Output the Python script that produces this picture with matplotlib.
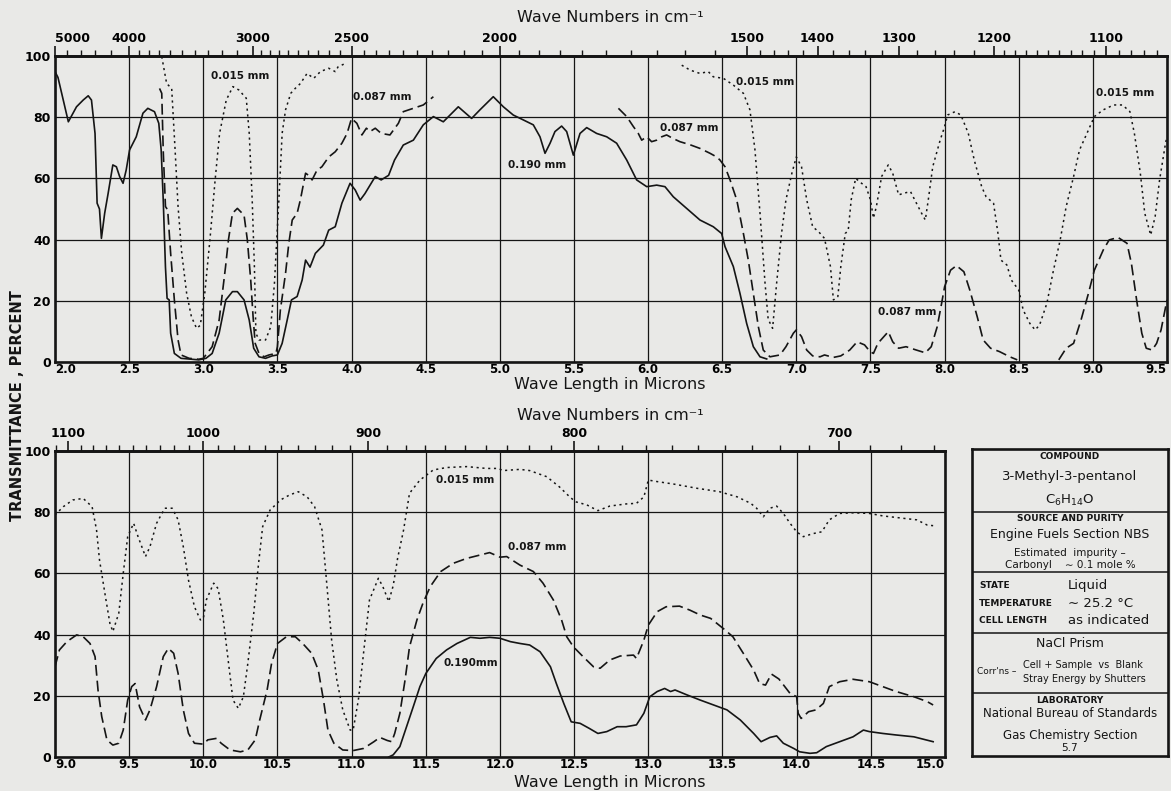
import numpy as np
import matplotlib
matplotlib.use("Agg")
import matplotlib.pyplot as plt
from matplotlib.ticker import FixedLocator

# ---------- data (microns, % transmittance) ----------

# upper panel, 2.0 - 9.5 microns
top_190_x = [2.0, 2.02, 2.09, 2.145, 2.19, 2.224, 2.246, 2.27, 2.284, 2.30, 2.313, 2.335, 2.358, 2.39,
             2.414, 2.436, 2.459, 2.48, 2.503, 2.548, 2.593, 2.626, 2.671, 2.70, 2.716, 2.73, 2.745,
             2.756, 2.77, 2.78, 2.805, 2.85, 2.97, 3.018, 3.06, 3.107, 3.152, 3.197, 3.23, 3.275,
             3.31, 3.34, 3.376, 3.42, 3.465, 3.50, 3.532, 3.566, 3.595, 3.633, 3.667, 3.69, 3.72,
             3.756, 3.81, 3.846, 3.89, 3.935, 3.99, 4.025, 4.058, 4.09, 4.16, 4.2, 4.25, 4.29,
             4.349, 4.417, 4.484, 4.552, 4.619, 4.72, 4.81, 4.866, 4.956, 5.024, 5.091, 5.159,
             5.226, 5.271, 5.305, 5.339, 5.372, 5.417, 5.451, 5.496, 5.541, 5.586, 5.653, 5.721,
             5.788, 5.856, 5.923, 5.991, 6.058, 6.114, 6.17, 6.26, 6.35, 6.44, 6.496, 6.519,
             6.575, 6.62, 6.665, 6.71, 6.755, 6.80]
top_190_y = [94.9, 93, 78.5, 83.4, 85.6, 87, 85.6, 74.7, 51.9, 50, 40.4, 48.6, 55, 64.4,
             63.8, 60.6, 58.4, 62.7, 69.3, 73.6, 81.3, 82.9, 81.8, 78, 69.3, 53, 31,
             20.8, 20.3, 9.4, 2.8, 1.2, 0.7, 1.2, 2.8, 9.4, 20.3, 23, 23, 20.3,
             13.7, 4.5, 1.7, 1.2, 2, 2.3, 6.1, 13.7, 20.3, 21.4, 26.8, 33.3, 31,
             35.5, 38.2, 43.1, 44.2, 51.9, 58.4, 56.2, 52.9, 55, 60.6, 59.5, 61, 66,
             70.9, 72.5, 77.5, 80.2, 78.5, 83.4, 79.6, 82.4, 86.7, 83.4, 80.7, 79.1,
             77.5, 73.6, 68.2, 71.5, 75.3, 77.1, 75.3, 67.6, 74.7, 76.6, 74.7, 73.6,
             71.5, 66, 59.5, 57.3, 57.8, 57.3, 54, 50.2, 46.4, 44.2, 42, 37.7,
             31.2, 22.4, 12.6, 5, 1.7, 1.0]

top_087_x = [2.705, 2.72, 2.73, 2.745, 2.76, 2.78, 2.805, 2.83, 2.85, 2.905, 2.97, 3.0, 3.06, 3.107,
             3.15, 3.17, 3.197, 3.23, 3.275, 3.297, 3.32, 3.336, 3.35, 3.376, 3.41, 3.443, 3.49,
             3.5, 3.52, 3.555, 3.577, 3.6, 3.633, 3.655, 3.69, 3.71, 3.734, 3.767, 3.8, 3.846,
             3.89, 3.935, 3.97, 4.0, 4.036, 4.07, 4.1, 4.125, 4.16, 4.2, 4.259, 4.316, 4.349,
             4.417, 4.484, 4.552,
             np.nan,
             5.8, 5.856, 5.9, 5.934, 5.957, 5.991, 6.024, 6.058, 6.092, 6.125, 6.17, 6.215,
             6.283, 6.35, 6.418, 6.463, 6.485, 6.519, 6.553, 6.598, 6.643, 6.676, 6.71, 6.744,
             6.777, 6.822, 6.89, 6.93, 6.98, 7.0, 7.035, 7.07, 7.11, 7.16, 7.19, 7.25, 7.3,
             7.36, 7.41, 7.46, 7.497, 7.52, 7.55, 7.62, 7.65, 7.69, 7.74, 7.81, 7.87, 7.91,
             7.95, 7.98, 8.0, 8.04, 8.08, 8.13, 8.17, 8.22, 8.26, 8.31, 8.37, 8.44, 8.49,
             np.nan,
             8.77, 8.82, 8.87, 8.92, 8.97, 9.01, 9.07, 9.11, 9.17, 9.23, 9.26, 9.295, 9.33,
             9.36, 9.4, 9.43, 9.46, 9.5]
top_087_y = [89.4, 87.8, 69, 50.8, 49.7, 35.5, 20.3, 7.2, 2.3, 1.2, 0.9, 1.2, 5, 13.7,
             31, 40, 48.6, 50.2, 48, 40, 26.8, 14.8, 6.1, 2.8, 1.7, 2.3, 2.8,
             5, 17, 29, 38.8, 46.4, 48.6, 53, 61.7, 61, 59.5, 62.7, 63.8, 67,
             68.7, 71.5, 74.7, 79.6, 78, 74.2, 76.4, 75.3, 76.4, 74.7, 74.2, 78, 81.8,
             82.9, 84, 86.7,
             np.nan,
             82.9, 80.2, 77, 74.7, 72.5, 73.6, 72, 72.5, 73.6, 74.2, 73, 72,
             71, 69.8, 68.2, 67, 66, 63.8, 59.5, 53, 42, 33.3, 22.4, 11.5,
             3.9, 1.7, 2.3, 5, 9.4, 10.5, 8.3, 3.9, 2, 1.7, 2.3, 1.5, 2,
             3.9, 6.6, 5.6, 3.4, 2.8, 6.1, 9.9, 6.6, 4.5, 5, 3.9, 3, 5,
             11.5, 19.2, 24.6, 30, 31.5, 29.5, 23.5, 14.8, 7.2, 4.5, 3.4, 1.7, 0.7,
             np.nan,
             0.7, 4.5, 6.1, 13.7, 22.4, 30, 36.6, 39.9, 40.7, 38.8, 32.2, 20.3, 9.4,
             4.5, 3.9, 6.1, 10.5, 20.3]

top_015_x = [2.72, 2.753, 2.787, 2.81, 2.83, 2.855, 2.888, 2.92, 2.955, 2.98, 3.01, 3.045, 3.08,
             3.11, 3.155, 3.2, 3.24, 3.29, 3.31, 3.33, 3.345, 3.355, 3.376, 3.42, 3.455, 3.48,
             3.51, 3.532, 3.555, 3.59, 3.62, 3.655, 3.7, 3.745, 3.79, 3.846, 3.89, 3.91, 3.96,
             np.nan,
             6.227, 6.283, 6.35, 6.406, 6.44, 6.508, 6.575, 6.643, 6.687, 6.721, 6.755, 6.789,
             6.81, 6.84, 6.867, 6.9, 6.93, 6.97, 7.0, 7.035, 7.07, 7.11, 7.15, 7.19, 7.23, 7.25,
             7.28, 7.3, 7.33, 7.35, 7.37, 7.4, 7.44, 7.47, 7.5, 7.52, 7.54, 7.575, 7.62, 7.65,
             7.69, 7.72, 7.77, 7.81, 7.845, 7.87, 7.89, 7.92, 7.97, 8.0, 8.02, 8.07, 8.11, 8.16,
             8.2, 8.25, 8.28, 8.33, 8.36, 8.38, 8.42, 8.45, 8.5, 8.53, 8.575, 8.61, 8.64, 8.69,
             8.73, 8.78, 8.82, 8.87, 8.91, 8.97, 9.01, 9.07, 9.14, 9.2, 9.25, 9.28, 9.32, 9.35,
             9.39, 9.42, 9.45, 9.49, 9.5]
top_015_y = [99.8, 91, 89.4, 69.3, 50.8, 35.5, 22.4, 14.8, 11, 12, 22.4, 40, 59.5,
             74.7, 85.6, 90, 88.9, 86.2, 74.7, 53, 31, 9.4, 7.2, 7.2, 11.5, 25.7,
             53, 74.7, 82.4, 87.8, 89.4, 91, 94.3, 92.7, 94.9, 96, 94.9, 96.5, 97.6,
             np.nan,
             97, 95.4, 94.3, 94.9, 93.2, 92.7, 90.5, 87.8, 82.4, 69.3, 48.6, 25.7,
             14, 11, 25.7, 42, 53, 61.7, 67, 63.8, 53, 44.2, 42.6, 40.4, 31.2, 20.3,
             21.4, 31.2, 42, 43, 53, 60, 58.4, 57.3, 53, 47, 50.8, 60.6, 64.4, 61.7,
             54.6, 55.1, 55.7, 51.9, 48.6, 46.4, 53, 63.8, 72.5, 76.9, 80.7, 81.8, 80.7, 74.7,
             66, 57.3, 54, 51.9, 42, 33.3, 31.7, 26.8, 23.5, 17, 12.6, 10.5, 12, 19.2,
             29, 40, 50.8, 60.6, 69.3, 75.8, 80.2, 82.4, 84, 84, 81.8, 74.7, 61.7, 48.6,
             41.5, 47.5, 59.5, 71.5, 73.6]

# lower panel, 9.0 - 15.0 microns
bot_190_x = [11.25, 11.28, 11.325, 11.37, 11.415, 11.46, 11.5, 11.57, 11.64, 11.71, 11.8, 11.865,
             11.93, 12.0, 12.07, 12.135, 12.2, 12.27, 12.34, 12.38, 12.43, 12.48, 12.54, 12.6,
             12.66, 12.72, 12.79, 12.85, 12.92, 12.97, 13.01, 13.06, 13.11, 13.15, 13.18, 13.26,
             13.35, 13.44, 13.53, 13.62, 13.71, 13.76, 13.82, 13.865, 13.91, 13.98, 14.02, 14.09,
             14.135, 14.2, 14.29, 14.38, 14.45, 14.49, 14.58, 14.67, 14.79, 14.92]
bot_190_y = [0, 0.7, 3.4, 9.9, 16.4, 23, 27.3, 32.2, 35, 37.1, 39.1, 38.8,
             39.1, 38.8, 37.7, 37.1, 36.6, 34.4, 29.5, 24, 17.5, 11.5, 11, 9.4,
             7.7, 8.3, 9.9, 9.9, 10.5, 14.3, 19.7, 21.4, 22.4, 21.4, 21.9, 20.3,
             18.6, 17, 15.4, 12.1, 7.7, 5, 6.4, 6.9, 4.5, 2.8, 1.7, 1.2,
             1.4, 3.4, 5, 6.6, 8.8, 8.3, 7.7, 7.2, 6.6, 5]

bot_087_x = [9.0, 9.03, 9.08, 9.146, 9.19, 9.236, 9.27, 9.29, 9.315, 9.35, 9.39, 9.43, 9.46, 9.49,
             9.517, 9.54, 9.57, 9.61, 9.64, 9.685, 9.73, 9.764, 9.8, 9.83, 9.865, 9.9, 9.94, 10.0,
             10.03, 10.09, 10.12, 10.18, 10.25, 10.3, 10.35, 10.38, 10.43, 10.46, 10.5, 10.56,
             10.62, 10.67, 10.73, 10.775, 10.81, 10.84, 10.88, 10.94, 11.01, 11.08, 11.15, 11.19,
             11.24, 11.27, 11.29, 11.325, 11.36, 11.39, 11.44, 11.48, 11.53, 11.6, 11.685, 11.775,
             11.865, 11.93, 12.0, 12.045, 12.135, 12.225, 12.29, 12.36, 12.415, 12.45, 12.495,
             12.56, 12.63, 12.675, 12.74, 12.81, 12.9, 12.92, 12.97, 13.0, 13.06, 13.12, 13.21,
             13.28, 13.35, 13.42, 13.505, 13.57, 13.64, 13.71, 13.75, 13.79, 13.83, 13.88, 13.955,
             14.0, 14.01, 14.03, 14.08, 14.13, 14.18, 14.22, 14.29, 14.38, 14.49, 14.58, 14.67,
             14.79, 14.88, 14.92]
bot_087_y = [29.5, 35, 37.7, 39.9, 39.3, 37.1, 32.8, 21.9, 13.2, 5.6, 3.9, 4.5, 8.8, 18.6,
             23, 24, 16.4, 12.1, 15.4, 23, 32.8, 35.5, 33.9, 27.3, 15.4, 7.7, 4.5, 4.2,
             5.6, 6.1, 4.5, 2.3, 1.7, 2.3, 5.6, 12.1, 21.9, 30.6, 37.1, 39.3,
             39.3, 37.1, 33.9, 28.4, 18.6, 8.8, 4.5, 2.3, 2.1, 2.8, 5, 6.4,
             5.4, 5, 7.7, 14.3, 25.2, 36, 44.8, 50.2, 55.7, 60.6, 63.3, 64.9,
             66, 66.8, 65.3, 65.5, 62.7, 60.6, 56.8, 51.3, 44.8, 39.3, 36,
             32.8, 29.5, 29, 31.7, 33, 33.3, 32.2, 38.2, 43.1, 47.5, 49.1, 49.3,
             48, 46.4, 45.3, 42, 39.3, 33.9, 28.4, 24, 23.5, 27.1, 25.5, 20.8,
             19.7, 14.3, 12.6, 14.8, 15.4, 17.5, 23, 24.6, 25.4, 24.6, 23, 21.4,
             19.7, 18.1, 17]

bot_015_x = [9.0, 9.056, 9.12, 9.19, 9.25, 9.28, 9.30, 9.34, 9.37, 9.39, 9.43, 9.46, 9.49, 9.53,
             9.56, 9.61, 9.64, 9.685, 9.74, 9.79, 9.83, 9.865, 9.9, 9.94, 9.98, 10.0, 10.02, 10.07,
             10.1, 10.135, 10.17, 10.2, 10.236, 10.27, 10.3, 10.34, 10.37, 10.4, 10.45, 10.52,
             10.58, 10.64, 10.7, 10.75, 10.8, 10.83, 10.865, 10.9, 10.94, 10.99, 11.01, 11.045,
             11.08, 11.12, 11.18, 11.21, 11.25, 11.28, 11.31, 11.35, 11.39, 11.46, 11.55, 11.64,
             11.775, 11.91, 11.99, 12.02, 12.135, 12.2, 12.315, 12.4, 12.47, 12.51, 12.585, 12.66,
             12.74, 12.85, 12.92, 12.97, 13.0, 13.06, 13.17, 13.33, 13.48, 13.6, 13.69, 13.73,
             13.775, 13.82, 13.865, 13.91, 13.955, 14.0, 14.045, 14.11, 14.17, 14.22, 14.29,
             14.38, 14.49, 14.58, 14.72, 14.81, 14.88, 14.92]
bot_015_y = [79.1, 81.8, 84, 84.5, 81.8, 74.2, 64.4, 52.4, 43.7, 41, 47, 60, 72, 76.4,
             72, 65.5, 68.7, 76.4, 81.3, 81.3, 77.5, 68.7, 57.8, 49.1, 44.8, 45.3, 51.3, 56.8,
             55, 44.8, 30.6, 18.6, 15.9, 19.7, 30.6, 47, 62.2, 75.3, 80.7, 84,
             85.6, 86.7, 85, 81.8, 74.2, 57.8, 38.2, 25.2, 15.4, 8.8, 8.8, 18.6,
             33.9, 51.3, 58.4, 55.7, 50.8, 56, 65, 74.2, 86.2, 90.5, 93.8, 94.6,
             94.9, 94.3, 94.3, 93.6, 94, 93.6, 91.6, 88.3, 85, 83.4, 82.4, 80.5,
             82, 82.7, 82.9, 85, 90.5, 90, 89.2, 87.8, 86.7, 85, 82.9, 81.3,
             78.5, 81.3, 82, 79.6, 76.4, 73.6, 72, 73, 73.6, 77.5, 79.6,
             79.8, 79.6, 78.8, 78, 77.5, 75.8, 75.6]

# wave number ticks (cm-1)
top_wn_major = [5000, 4000, 3000, 2500, 2000, 1500, 1400, 1300, 1200, 1100]
top_wn_minor = (list(range(4800, 4000, -200)) + list(range(3900, 3000, -100)) +
                list(range(2950, 1500, -50)) + list(range(1480, 1200, -20)) +
                list(range(1190, 1050, -10)))
bot_wn_major = [1100, 1000, 900, 800, 700]
bot_wn_minor = [w for w in range(1110, 666, -10) if w % 100 != 0]

curve_labels_top = [(3.25, 93.5, "0.015 mm"), (4.21, 86.6, "0.087 mm"), (5.25, 64.4, "0.190 mm"),
                    (6.28, 76.5, "0.087 mm"), (6.79, 91.5, "0.015 mm"), (7.745, 16.3, "0.087 mm"),
                    (9.215, 87.9, "0.015 mm")]
curve_labels_bot = [(11.765, 90.5, "0.015 mm"), (12.25, 68.6, "0.087 mm"), (11.8, 30.7, "0.190mm")]

# ---------- drawing ----------
paper = '#e9e9e7'
ink = '#151515'
DASH = (0, (6.5, 3))
DOT = (0, (1.4, 2.4))

plt.rcParams['font.family'] = ['DejaVu Sans']

fig = plt.figure(figsize=(11.71, 7.91), dpi=100, facecolor=paper)


def inv(x):
    x = np.asarray(x, dtype=float)
    with np.errstate(divide='ignore'):
        return 1e4 / x


def setup(ax, xlo, xhi, wn_major, wn_minor):
    ax.set_facecolor(paper)
    ax.set_xlim(xlo, xhi)
    ax.set_ylim(0, 100)
    ax.set_xticks(np.arange(xlo, xhi + 0.01, 0.5))
    ax.set_xticklabels(['%.1f' % v for v in np.arange(xlo, xhi + 0.01, 0.5)])
    ax.set_yticks(range(0, 101, 20))
    ax.tick_params(axis='y', length=0, labelsize=9, pad=3)
    ax.tick_params(axis='x', length=0, labelsize=8.5, pad=1)
    for lab in ax.get_xticklabels() + ax.get_yticklabels():
        lab.set_fontweight('bold')
    ax.grid(True, color=ink, lw=0.9)
    ax.set_axisbelow(True)
    for s in ax.spines.values():
        s.set_linewidth(1.9)
        s.set_color(ink)
    sec = ax.secondary_xaxis('top', functions=(inv, inv))
    sec.set_xticks(wn_major)
    sec.set_xticklabels([str(w) for w in wn_major])
    sec.xaxis.set_minor_locator(FixedLocator(wn_minor))
    sec.tick_params(which='major', length=7, width=1.2, labelsize=9, pad=1, color=ink)
    sec.tick_params(which='minor', length=4, width=1.0, color=ink)
    for lab in sec.get_xticklabels():
        lab.set_fontweight('bold')
    sec.spines['top'].set_linewidth(1.9)
    return sec


ax1 = fig.add_axes([55 / 1171, 1 - 362 / 791, 1112 / 1171, 306 / 791])
sec1 = setup(ax1, 2.0, 9.5, top_wn_major, top_wn_minor)
labs = ax1.get_xticklabels()
labs[0].set_ha('left')
labs[-1].set_ha('right')
sec1.get_xticklabels()[0].set_ha('left')

ax1.plot(top_190_x, top_190_y, color=ink, lw=1.2)
ax1.plot(top_087_x, top_087_y, color=ink, lw=1.2, ls=DASH)
ax1.plot(top_015_x, top_015_y, color=ink, lw=1.1, ls=DOT)
for x, y, t in curve_labels_top:
    ax1.text(x, y, t, fontsize=7.5, fontweight='bold', ha='center', va='center', color=ink)

ax2 = fig.add_axes([55 / 1171, 1 - 757 / 791, 890 / 1171, 306 / 791])
sec2 = setup(ax2, 9.0, 15.0, bot_wn_major, bot_wn_minor)
labs = ax2.get_xticklabels()
labs[0].set_ha('left')
labs[-1].set_ha('right')

ax2.plot(bot_190_x, bot_190_y, color=ink, lw=1.2)
ax2.plot(bot_087_x, bot_087_y, color=ink, lw=1.2, ls=DASH)
ax2.plot(bot_015_x, bot_015_y, color=ink, lw=1.1, ls=DOT)
for x, y, t in curve_labels_bot:
    ax2.text(x, y, t, fontsize=7.5, fontweight='bold', ha='center', va='center', color=ink)

# axis titles
for yy, t in [(18, "Wave Numbers in cm⁻¹"), (385, "Wave Length in Microns"),
              (416, "Wave Numbers in cm⁻¹"), (783, "Wave Length in Microns")]:
    fig.text(610 / 1171, 1 - yy / 791, t, fontsize=11.5, ha='center', va='center', color=ink)
fig.text(18 / 1171, 1 - 406 / 791, "TRANSMITTANCE , PERCENT", rotation=90, fontsize=10.5,
         fontweight='bold', ha='center', va='center', color=ink)

# info box
box = fig.add_axes([972 / 1171, 1 - 756 / 791, 196 / 1171, 307 / 791])
box.set_facecolor(paper)
box.set_xticks([])
box.set_yticks([])
box.set_xlim(0, 1)
box.set_ylim(0, 1)
for s in box.spines.values():
    s.set_linewidth(1.9)
    s.set_color(ink)
for yy in [0.795, 0.60, 0.40, 0.205]:
    box.axhline(yy, color=ink, lw=1.1)

rows = [
    (0.5, 0.974, "COMPOUND", 6.5, 'bold', 'center'),
    (0.5, 0.909, "3-Methyl-3-pentanol", 9.5, 'normal', 'center'),
    (0.5, 0.834, r"C$_6$H$_{14}$O", 9.5, 'normal', 'center'),
    (0.5, 0.775, "SOURCE AND PURITY", 6.5, 'bold', 'center'),
    (0.5, 0.720, "Engine Fuels Section NBS", 9, 'normal', 'center'),
    (0.5, 0.661, "Estimated  impurity –", 7.5, 'normal', 'center'),
    (0.5, 0.622, "Carbonyl    ∼ 0.1 mole %", 7.5, 'normal', 'center'),
    (0.036, 0.557, "STATE", 6.5, 'bold', 'left'),
    (0.036, 0.498, "TEMPERATURE", 6.5, 'bold', 'left'),
    (0.036, 0.440, "CELL LENGTH", 6.5, 'bold', 'left'),
    (0.49, 0.557, "Liquid", 9.5, 'normal', 'left'),
    (0.49, 0.498, "∼ 25.2 °C", 9.5, 'normal', 'left'),
    (0.49, 0.440, "as indicated", 9.5, 'normal', 'left'),
    (0.5, 0.365, "NaCl Prism", 9, 'normal', 'center'),
    (0.025, 0.274, "Corr'ns –", 6.5, 'normal', 'left'),
    (0.26, 0.296, "Cell + Sample  vs  Blank", 7, 'normal', 'left'),
    (0.26, 0.251, "Stray Energy by Shutters", 7, 'normal', 'left'),
    (0.5, 0.182, "LABORATORY", 6.5, 'bold', 'center'),
    (0.5, 0.137, "National Bureau of Standards", 8.5, 'normal', 'center'),
    (0.5, 0.068, "Gas Chemistry Section", 8.5, 'normal', 'center'),
    (0.5, 0.026, "5.7", 7.5, 'normal', 'center'),
]
for x, y, t, fs, fw, ha in rows:
    box.text(x, y, t, fontsize=fs, fontweight=fw, ha=ha, va='center', color=ink)

fig.savefig("out.png", dpi=100, facecolor=paper)
